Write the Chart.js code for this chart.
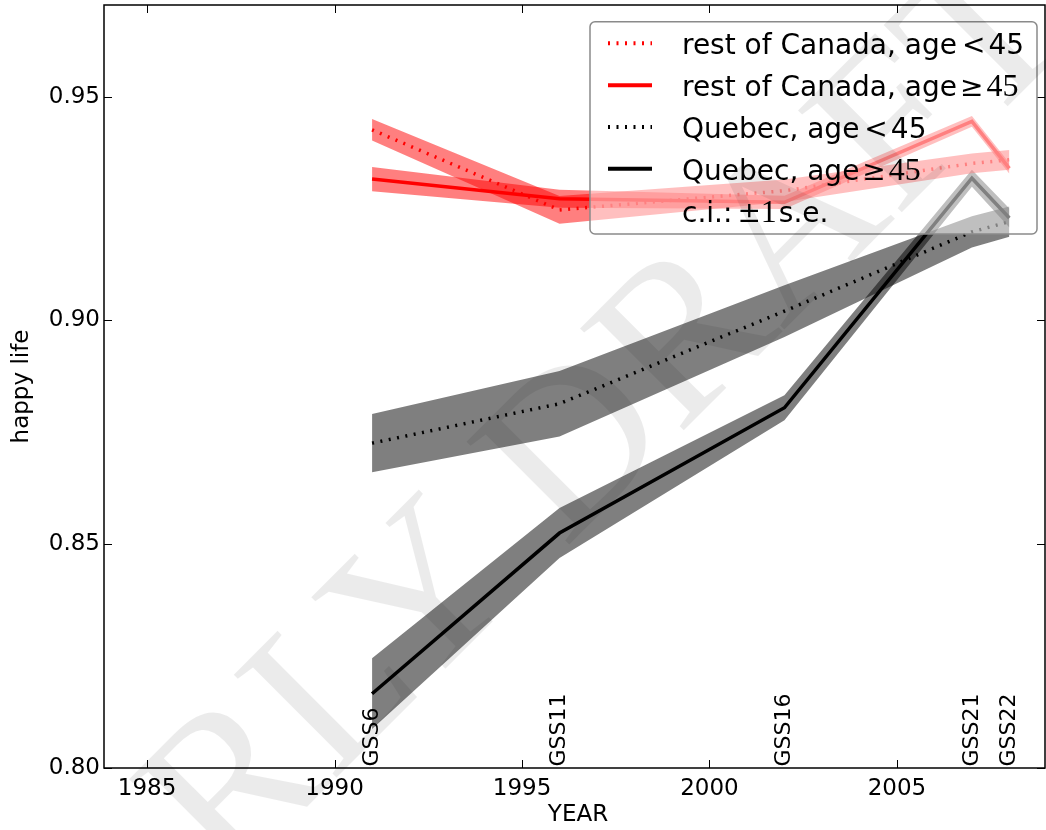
<!DOCTYPE html>
<html><head><meta charset="utf-8">
<script src="https://cdn.jsdelivr.net/npm/chart.js@4.4.1/dist/chart.umd.min.js"></script>
<style>html,body{margin:0;padding:0;background:#fff;}canvas{display:block;}</style>
</head><body>
<div style="width:1046px;height:830px"><canvas id="c" width="1046" height="830"></canvas></div>
<script>
// ---- data ----
const years = [1991, 1996, 2002, 2007, 2008];
const surveys = ['GSS6', 'GSS11', 'GSS16', 'GSS21', 'GSS22'];
const rocYoungMean = [0.9426, 0.9247, 0.9290, 0.9351, 0.9359];
const rocYoungSE   = [0.0024, 0.0031, 0.0025, 0.0022, 0.0022];
const rocOldMean   = [0.9316, 0.9272, 0.9264, 0.9445, 0.9340];
const rocOldSE     = [0.0027, 0.0020, 0.0015, 0.0012, 0.0012];
const qcYoungMean  = [0.8726, 0.8814, 0.9021, 0.9198, 0.9221];
const qcYoungSE    = [0.0065, 0.0073, 0.0058, 0.0035, 0.0034];
const qcOldMean    = [0.8166, 0.8525, 0.8805, 0.9318, 0.9229];
const qcOldSE      = [0.0079, 0.0056, 0.0028, 0.0019, 0.0021];
const xTicks = [1985, 1990, 1995, 2000, 2005];
const yTicks = [0.80, 0.85, 0.90, 0.95];
const legendLabels = ['rest of Canada, age', 'rest of Canada, age', 'Quebec, age', 'Quebec, age', 'c.i.:'];
const xTitle = 'YEAR';
const yTitle = 'happy life';
const watermark = 'EARLY DRAFT';

const SANS = '"DejaVu Sans"';
const SERIF = '"Liberation Serif"';
const RED = '#ff0000', BLACK = '#000000';
const DOT = [2, 6.5];

function pts(vals) { return years.map((x, i) => ({x: x, y: vals[i]})); }
function pm(m, s, sign) { return m.map((v, i) => v + sign * s[i]); }
function line(vals, color, dash) {
  return {data: pts(vals), borderColor: color, borderWidth: 3.5, borderDash: dash,
          borderCapStyle: 'butt', pointRadius: 0, fill: false, tension: 0};
}
function bandPair(m, s, color) {
  return [
    {data: pts(pm(m, s, 1)), borderColor: 'transparent', borderWidth: 0, pointRadius: 0, fill: false},
    {data: pts(pm(m, s, -1)), borderColor: 'transparent', borderWidth: 0, pointRadius: 0, fill: '-1', backgroundColor: color}
  ];
}
const datasets = [
  line(rocYoungMean, RED, DOT),
  line(rocOldMean, RED, []),
  line(qcYoungMean, BLACK, DOT),
  line(qcOldMean, BLACK, []),
  ...bandPair(rocYoungMean, rocYoungSE, 'rgba(255,0,0,0.5)'),
  ...bandPair(rocOldMean, rocOldSE, 'rgba(255,0,0,0.5)'),
  ...bandPair(qcYoungMean, qcYoungSE, 'rgba(0,0,0,0.5)'),
  ...bandPair(qcOldMean, qcOldSE, 'rgba(0,0,0,0.5)')
];

const decor = {
  id: 'decor',
  beforeDraw(chart) {
    const c = chart.ctx; c.save(); c.fillStyle = '#fff'; c.fillRect(0, 0, chart.width, chart.height); c.restore();
  },
  afterDatasetsDraw(chart) {
    const c = chart.ctx, xs = chart.scales.x, a = chart.chartArea;
    c.save();
    c.fillStyle = '#000';
    c.font = '22px ' + SANS;
    c.textAlign = 'left'; c.textBaseline = 'middle';
    years.forEach((yr, i) => {
      c.save();
      c.translate(xs.getPixelForValue(yr), a.bottom - 1.5);
      c.rotate(-Math.PI / 2);
      c.fillText(surveys[i], 0, 0);
      c.restore();
    });
    c.restore();
  },
  afterDraw(chart) {
    const c = chart.ctx, xs = chart.scales.x, ys = chart.scales.y, a = chart.chartArea;
    c.save();
    // frame
    c.strokeStyle = '#000'; c.lineWidth = 1.5;
    c.strokeRect(a.left, a.top, a.right - a.left, a.bottom - a.top);
    // inward ticks
    c.lineWidth = 1;
    c.beginPath();
    xTicks.forEach(v => {
      const px = Math.round(xs.getPixelForValue(v)) + 0.5;
      c.moveTo(px, a.bottom); c.lineTo(px, a.bottom - 8);
      c.moveTo(px, a.top); c.lineTo(px, a.top + 8);
    });
    yTicks.forEach(v => {
      const py = Math.round(ys.getPixelForValue(v)) + 0.5;
      c.moveTo(a.left, py); c.lineTo(a.left + 8, py);
      c.moveTo(a.right, py); c.lineTo(a.right - 8, py);
    });
    c.stroke();
    // axis titles
    c.fillStyle = '#000';
    c.font = '23px ' + SANS;
    c.textAlign = 'center'; c.textBaseline = 'alphabetic';
    c.fillText(xTitle, 578, 821);
    c.save();
    c.translate(27.6, (a.top + a.bottom) / 2);
    c.rotate(-Math.PI / 2);
    c.fillText(yTitle, 0, 0);
    c.restore();
    // legend
    const L = 590, T = 21.7, R = 1037, B = 234, r = 5;
    c.beginPath();
    c.moveTo(L + r, T); c.lineTo(R - r, T); c.arcTo(R, T, R, T + r, r);
    c.lineTo(R, B - r); c.arcTo(R, B, R - r, B, r);
    c.lineTo(L + r, B); c.arcTo(L, B, L, B - r, r);
    c.lineTo(L, T + r); c.arcTo(L, T, L + r, T, r);
    c.closePath();
    c.fillStyle = 'rgba(255,255,255,0.5)'; c.fill();
    c.strokeStyle = '#8a8a8a'; c.lineWidth = 1.5; c.stroke();
    const FS = '28px ' + SANS, FM = '32px ' + SERIF;
    const rows = [
      {col: RED, dash: DOT, pieces: [[legendLabels[0], FS, 0], ['<', FS, 5], ['45', FS, 3]]},
      {col: RED, dash: [], pieces: [[legendLabels[1], FS, 0], ['\u2265', FS, 3], ['45', FM, 3]]},
      {col: BLACK, dash: DOT, pieces: [[legendLabels[2], FS, 0], ['<', FS, 5], ['45', FS, 3]]},
      {col: BLACK, dash: [], pieces: [[legendLabels[3], FS, 0], ['\u2265', FS, 3], ['45', FM, 3]]},
      {col: null, pieces: [[legendLabels[4], FS, 0], ['\u00b1', FS, 5], ['1', FM, 0], ['s.e.', FS, 2]]}
    ];
    c.textAlign = 'left'; c.textBaseline = 'alphabetic';
    rows.forEach((row, i) => {
      const yb = 54.3 + i * 41.85;
      if (row.col) {
        c.strokeStyle = row.col; c.lineWidth = 4; c.setLineDash(row.dash); c.lineCap = 'butt';
        c.beginPath(); c.moveTo(608, yb - 11); c.lineTo(652, yb - 11); c.stroke();
        c.setLineDash([]);
      }
      let x = 682;
      c.fillStyle = '#000';
      row.pieces.forEach(p => {
        x += p[2]; c.font = p[1]; c.fillText(p[0], x, yb); x += c.measureText(p[0]).width;
      });
    });
    // watermark: rotated 45 degrees, letter "L" centred near (328, 682)
    c.save();
    const fsz = 222;
    c.font = fsz + 'px ' + SERIF;
    const lx = c.measureText('EAR').width + c.measureText('L').width / 2;
    const ly = -0.331 * fsz;
    const th = -Math.PI / 4;
    const ox = 328 - (lx * Math.cos(th) - ly * Math.sin(th));
    const oy = 682 - (lx * Math.sin(th) + ly * Math.cos(th));
    c.translate(ox, oy);
    c.rotate(th);
    c.fillStyle = 'rgba(0,0,0,0.08)';
    c.textAlign = 'left'; c.textBaseline = 'alphabetic';
    c.fillText(watermark, 0, 0);
    c.restore();
    c.restore();
  }
};

new Chart(document.getElementById('c'), {
  type: 'line',
  data: {datasets: datasets},
  options: {
    responsive: false, animation: false, devicePixelRatio: 1,
    layout: {padding: {top: 5, right: 1, left: 0, bottom: 0}},
    plugins: {legend: {display: false}, tooltip: {enabled: false}, filler: {drawTime: 'beforeDatasetsDraw'}},
    scales: {
      x: {type: 'linear', min: 1983.85, max: 2008.95,
          afterBuildTicks: s => { s.ticks = xTicks.map(v => ({value: v})); },
          afterFit: s => { s.height = 62; s.paddingLeft = 0; s.paddingRight = 0; },
          ticks: {font: {family: 'DejaVu Sans', size: 23}, color: '#000', padding: 7, maxRotation: 0, autoSkip: false,
                  callback: v => String(v)},
          grid: {display: false, drawTicks: false}, border: {display: false}},
      y: {type: 'linear', min: 0.80, max: 0.9705,
          afterBuildTicks: s => { s.ticks = yTicks.map(v => ({value: v})); },
          afterFit: s => { s.width = 104; s.paddingTop = 0; s.paddingBottom = 0; },
          ticks: {font: {family: 'DejaVu Sans', size: 23}, color: '#000', padding: 4, autoSkip: false,
                  callback: v => Number(v).toFixed(2)},
          grid: {display: false, drawTicks: false}, border: {display: false}}
    }
  },
  plugins: [decor]
});
</script>
</body></html>
